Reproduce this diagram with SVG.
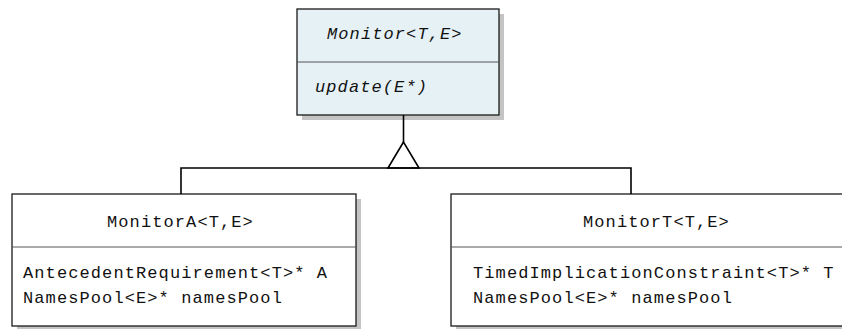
<svg xmlns="http://www.w3.org/2000/svg" width="842" height="329" viewBox="0 0 842 329">
<style>
.box{stroke:#1a1a1a;stroke-width:1.3;}
.shadow{fill:#c4c4c4;stroke:none;}
.div{stroke:#555;stroke-width:1;}
.t{font-family:"Liberation Mono",monospace;font-size:17px;letter-spacing:1.1px;fill:#111;}
.it{font-style:italic;}
.conn{fill:none;stroke:#000;stroke-width:1.6;}
</style>
<g id="Monitor">
<rect class="shadow" x="302" y="14" width="202" height="106"/>
<rect class="box" x="297" y="9" width="202" height="106" fill="#e6f1f6"/>
<line class="div" x1="297" y1="62" x2="499" y2="62"/>
<text class="t it" x="327" y="39">Monitor&lt;T,E&gt;</text>
<text class="t it" x="315" y="92">update(E*)</text>
</g>
<g id="MonitorA">
<rect class="shadow" x="17" y="199" width="344" height="132"/>
<rect class="box" x="12" y="194" width="344" height="132" fill="#ffffff"/>
<line class="div" x1="12" y1="247" x2="356" y2="247"/>
<text class="t" x="107" y="227">MonitorA&lt;T,E&gt;</text>
<text class="t" x="23" y="278">AntecedentRequirement&lt;T&gt;* A</text>
<text class="t" x="23" y="303">NamesPool&lt;E&gt;* namesPool</text>
</g>
<g id="MonitorT">
<rect class="shadow" x="456" y="199" width="400" height="132"/>
<rect class="box" x="451" y="194" width="400" height="132" fill="#ffffff"/>
<line class="div" x1="451" y1="247" x2="851" y2="247"/>
<text class="t" x="583" y="227">MonitorT&lt;T,E&gt;</text>
<text class="t" x="473" y="278">TimedImplicationConstraint&lt;T&gt;* T</text>
<text class="t" x="473" y="303">NamesPool&lt;E&gt;* namesPool</text>
</g>
<g id="connectors">
<line class="conn" x1="403.5" y1="115" x2="403.5" y2="142"/>
<polygon class="conn" points="403.5,142 388,168 419,168" fill="#fff"/>
<polyline class="conn" points="181,194 181,168 631,168 631,194"/>
</g>
</svg>
